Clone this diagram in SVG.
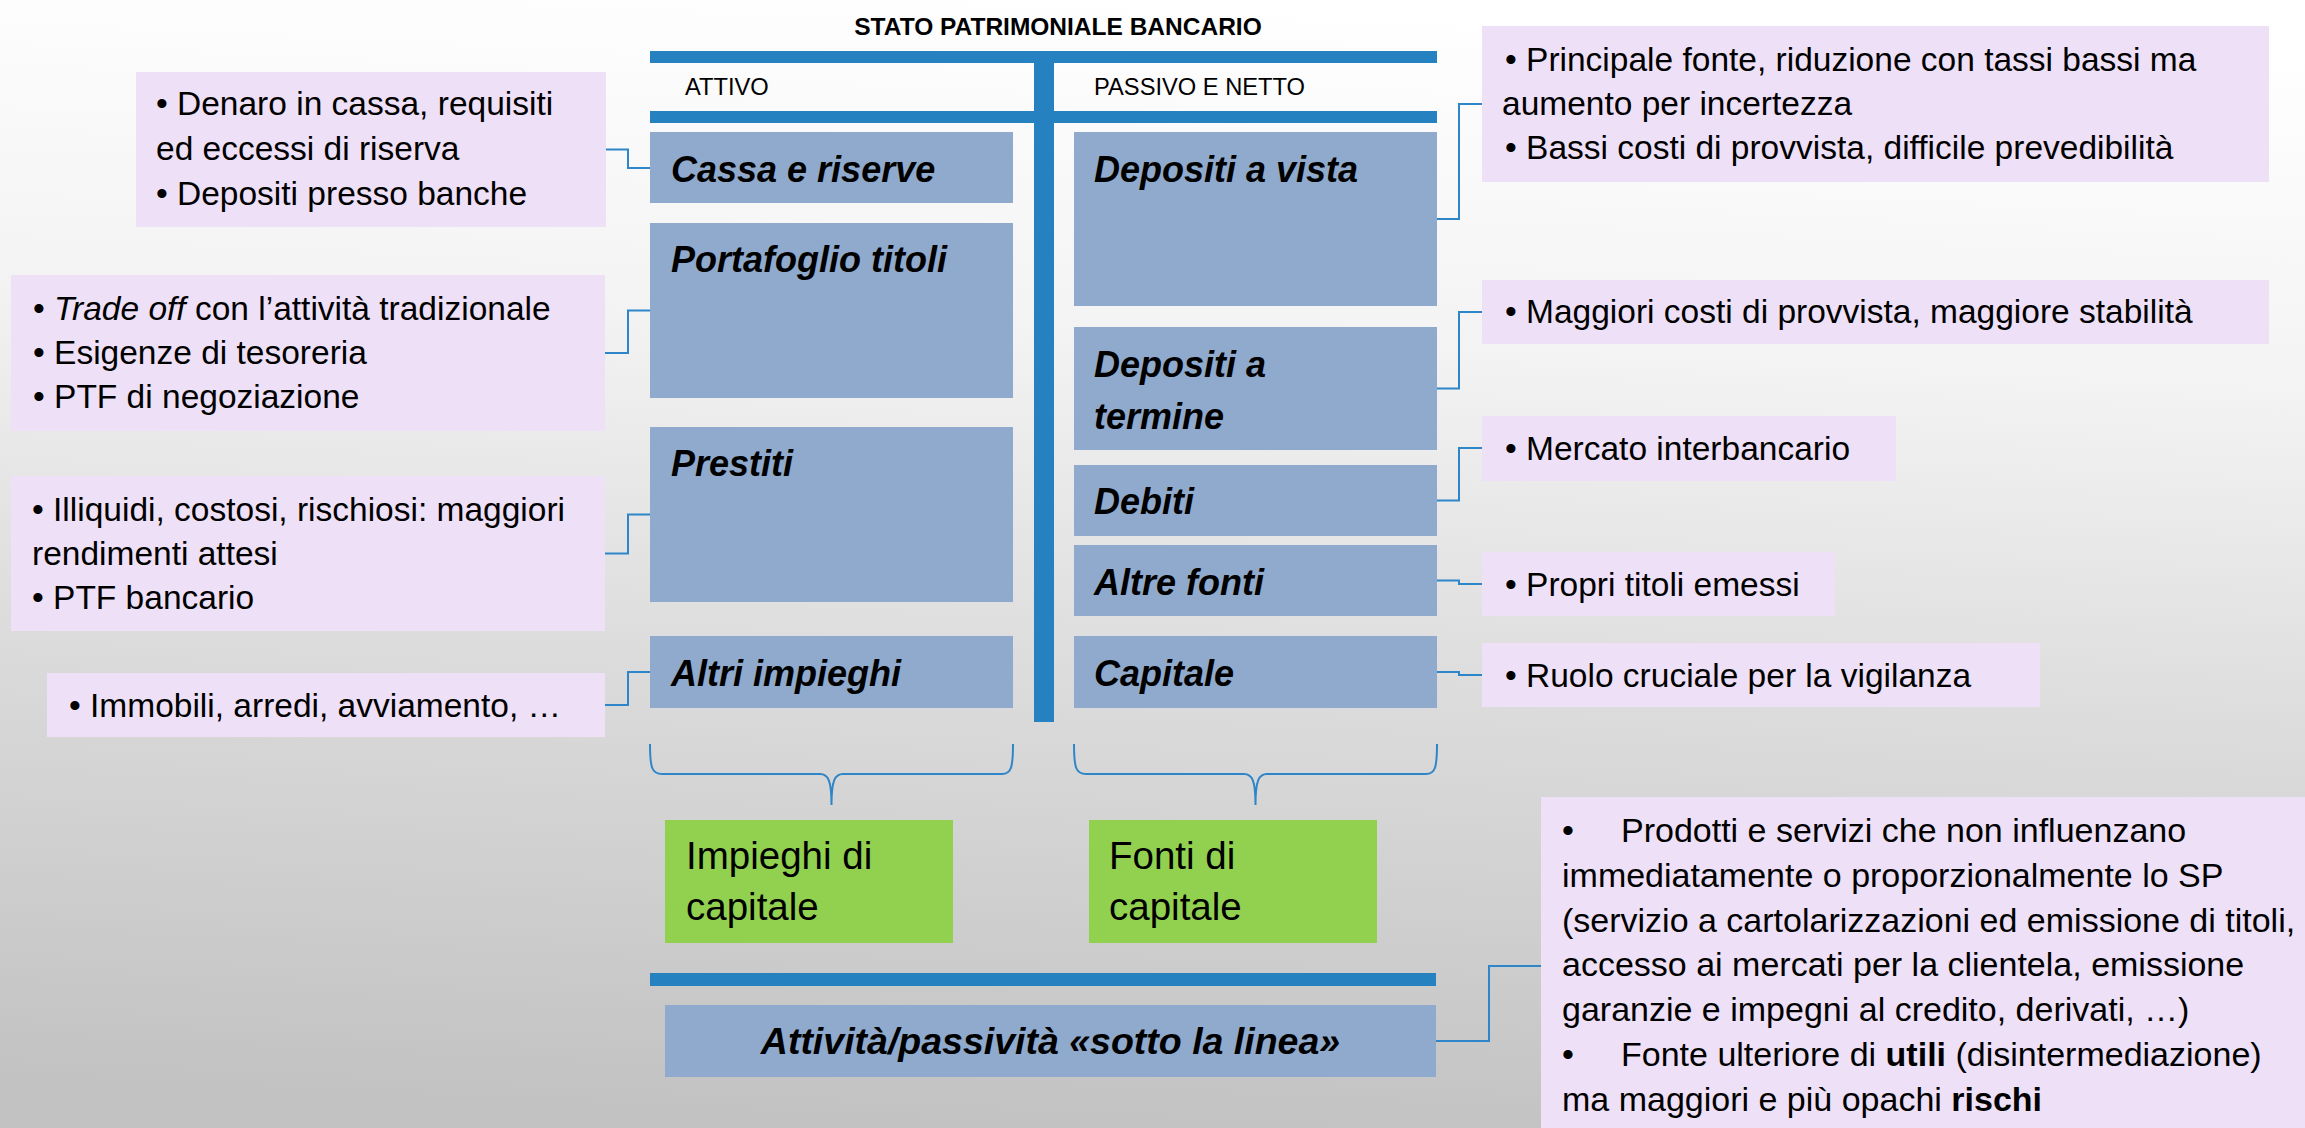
<svg xmlns="http://www.w3.org/2000/svg" width="2305" height="1128" viewBox="0 0 2305 1128">
<defs>
<linearGradient id="bg" x1="0.55" y1="0" x2="0.45" y2="1">
<stop offset="0" stop-color="#FFFFFF"/>
<stop offset="0.3" stop-color="#F3F3F3"/>
<stop offset="0.6" stop-color="#DCDCDC"/>
<stop offset="1" stop-color="#C2C2C2"/>
</linearGradient>
<style>
text{font-family:"Liberation Sans",Arial,sans-serif;fill:#000}
.bar{fill:#2681C1}
.box{fill:#8FAACC}
.pink{fill:#EEE0F6}
.green{fill:#92D050}
.lbl{font-size:36px;font-weight:bold;font-style:italic}
.note{font-size:33.5px}
.big{font-size:34px}
.hdr{font-size:23.7px}
.title{font-size:24.5px;font-weight:bold}
.gtxt{font-size:38.5px}
.conn{fill:none;stroke:#2E86C8;stroke-width:2}
</style>
</defs>
<rect x="0" y="0" width="2305" height="1128" fill="url(#bg)"/>

<g id="title">
<text class="title" x="1058" y="35" text-anchor="middle">STATO PATRIMONIALE BANCARIO</text>
</g>

<g id="frame">
<rect class="bar" x="650" y="51" width="787" height="12"/>
<rect class="bar" x="650" y="111" width="787" height="12"/>
<rect class="bar" x="1034" y="51" width="20" height="671"/>
<rect class="bar" x="650" y="973" width="786" height="13"/>
<text class="hdr" x="685" y="95">ATTIVO</text>
<text class="hdr" x="1094" y="95">PASSIVO E NETTO</text>
</g>

<g id="connectors">
<path class="conn" d="M606,149.5 H628 V168 H650"/>
<path class="conn" d="M605,353 H628 V310.5 H650"/>
<path class="conn" d="M605,553.5 H628 V514.5 H650"/>
<path class="conn" d="M605,705 H628 V672 H650"/>
<path class="conn" d="M1437,219 H1459 V104 H1482"/>
<path class="conn" d="M1437,388.5 H1459 V312 H1482"/>
<path class="conn" d="M1437,500.5 H1459 V448 H1482"/>
<path class="conn" d="M1437,580.5 H1459 V584 H1482"/>
<path class="conn" d="M1437,672 H1459 V675 H1482"/>
<path class="conn" d="M1436,1041 H1489 V966 H1541"/>
<path class="conn" d="M650,744 C650,768 652,774 662,774 L820,774 C828,774 831.5,780 831.5,805 C831.5,780 835,774 843,774 L1002,774 C1011,774 1013,768 1013,744"/>
<path class="conn" d="M1074,744 C1074,768 1076,774 1086,774 L1244,774 C1252,774 1255.5,780 1255.5,805 C1255.5,780 1259,774 1267,774 L1426,774 C1435,774 1437,768 1437,744"/>
</g>

<g id="cassa">
<rect class="box" x="650" y="132" width="363" height="71"/>
<text class="lbl" x="671" y="182">Cassa e riserve</text>
</g>
<g id="portafoglio">
<rect class="box" x="650" y="223" width="363" height="175"/>
<text class="lbl" x="671" y="272">Portafoglio titoli</text>
</g>
<g id="prestiti">
<rect class="box" x="650" y="427" width="363" height="175"/>
<text class="lbl" x="671" y="476">Prestiti</text>
</g>
<g id="altri-impieghi">
<rect class="box" x="650" y="636" width="363" height="72"/>
<text class="lbl" x="671" y="686">Altri impieghi</text>
</g>

<g id="depositi-vista">
<rect class="box" x="1074" y="132" width="363" height="174"/>
<text class="lbl" x="1094" y="182">Depositi a vista</text>
</g>
<g id="depositi-termine">
<rect class="box" x="1074" y="327" width="363" height="123"/>
<text class="lbl" x="1094" y="377">Depositi a</text>
<text class="lbl" x="1094" y="429">termine</text>
</g>
<g id="debiti">
<rect class="box" x="1074" y="465" width="363" height="71"/>
<text class="lbl" x="1094" y="514">Debiti</text>
</g>
<g id="altre-fonti">
<rect class="box" x="1074" y="545" width="363" height="71"/>
<text class="lbl" x="1094" y="595">Altre fonti</text>
</g>
<g id="capitale">
<rect class="box" x="1074" y="636" width="363" height="72"/>
<text class="lbl" x="1094" y="686">Capitale</text>
</g>

<g id="impieghi-capitale">
<rect class="green" x="665" y="820" width="288" height="123"/>
<text class="gtxt" x="686" y="869">Impieghi di</text>
<text class="gtxt" x="686" y="920">capitale</text>
</g>
<g id="fonti-capitale">
<rect class="green" x="1089" y="820" width="288" height="123"/>
<text class="gtxt" x="1109" y="869">Fonti di</text>
<text class="gtxt" x="1109" y="920">capitale</text>
</g>

<g id="sotto-linea">
<rect class="box" x="665" y="1005" width="771" height="72"/>
<text class="lbl" x="1050.5" y="1054" text-anchor="middle" style="font-size:37.5px">Attività/passività «sotto la linea»</text>
</g>

<g id="note-cassa">
<rect class="pink" x="136" y="72" width="470" height="155"/>
<text class="note" x="156" y="115">• Denaro in cassa, requisiti</text>
<text class="note" x="156" y="160">ed eccessi di riserva</text>
<text class="note" x="156" y="205">• Depositi presso banche</text>
</g>
<g id="note-portafoglio">
<rect class="pink" x="11" y="275" width="594" height="156"/>
<text class="note" x="33" y="320">• <tspan font-style="italic">Trade off</tspan> con l’attività tradizionale</text>
<text class="note" x="33" y="364">• Esigenze di tesoreria</text>
<text class="note" x="33" y="408">• PTF di negoziazione</text>
</g>
<g id="note-prestiti">
<rect class="pink" x="11" y="476" width="594" height="155"/>
<text class="note" x="32" y="521">• Illiquidi, costosi, rischiosi: maggiori</text>
<text class="note" x="32" y="565">rendimenti attesi</text>
<text class="note" x="32" y="609">• PTF bancario</text>
</g>
<g id="note-altri">
<rect class="pink" x="47" y="673" width="558" height="64"/>
<text class="note" x="69" y="717">• Immobili, arredi, avviamento, …</text>
</g>

<g id="note-vista">
<rect class="pink" x="1482" y="26" width="787" height="156"/>
<text class="note" x="1505" y="71">• Principale fonte, riduzione con tassi bassi ma</text>
<text class="note" x="1502" y="115">aumento per incertezza</text>
<text class="note" x="1505" y="159">• Bassi costi di provvista, difficile prevedibilità</text>
</g>
<g id="note-termine">
<rect class="pink" x="1482" y="280" width="787" height="64"/>
<text class="note" x="1505" y="323">• Maggiori costi di provvista, maggiore stabilità</text>
</g>
<g id="note-debiti">
<rect class="pink" x="1482" y="416" width="414" height="65"/>
<text class="note" x="1505" y="460">• Mercato interbancario</text>
</g>
<g id="note-fonti">
<rect class="pink" x="1482" y="552" width="353" height="64"/>
<text class="note" x="1505" y="596">• Propri titoli emessi</text>
</g>
<g id="note-capitale">
<rect class="pink" x="1482" y="643" width="558" height="64"/>
<text class="note" x="1505" y="687">• Ruolo cruciale per la vigilanza</text>
</g>

<g id="note-sotto-linea">
<rect class="pink" x="1541" y="797" width="764" height="331"/>
<text class="big" y="842"><tspan x="1562">•</tspan><tspan x="1621">Prodotti e servizi che non influenzano</tspan></text>
<text class="big" x="1562" y="887">immediatamente o proporzionalmente lo SP</text>
<text class="big" x="1562" y="932">(servizio a cartolarizzazioni ed emissione di titoli,</text>
<text class="big" x="1562" y="976">accesso ai mercati per la clientela, emissione</text>
<text class="big" x="1562" y="1021">garanzie e impegni al credito, derivati, …)</text>
<text class="big" y="1066"><tspan x="1562">•</tspan><tspan x="1621">Fonte ulteriore di <tspan font-weight="bold">utili</tspan> (disintermediazione)</tspan></text>
<text class="big" x="1562" y="1111">ma maggiori e più opachi <tspan font-weight="bold">rischi</tspan></text>
</g>
</svg>
